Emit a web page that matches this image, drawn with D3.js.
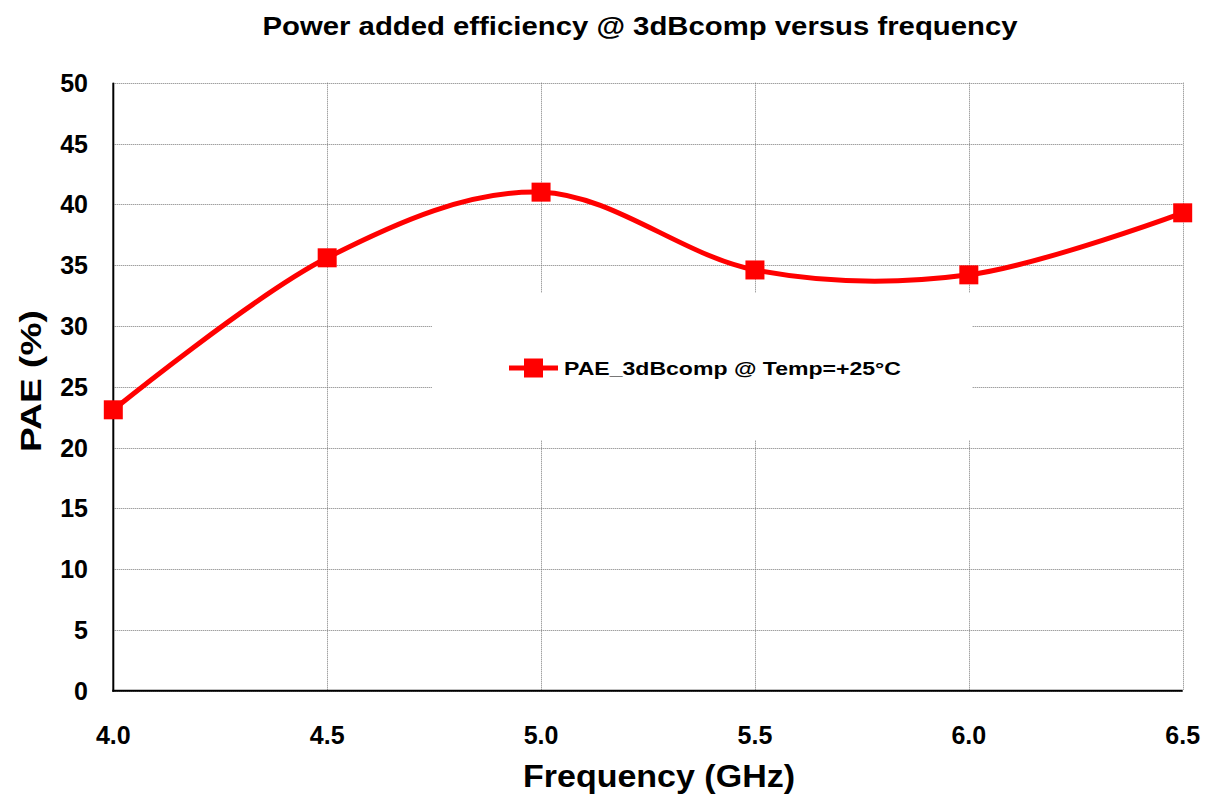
<!DOCTYPE html>
<html><head><meta charset="utf-8">
<script src="https://cdn.jsdelivr.net/npm/d3@7"></script>
<style>body{margin:0;background:#fff}svg{display:block}text{font-family:Arial,"Liberation Sans",sans-serif;font-weight:bold;fill:#000}</style>
</head><body>
<svg id="c" width="1214" height="796"></svg>
<script>
const frequency = [4.0, 4.5, 5.0, 5.5, 6.0, 6.5];
const pae = [23.1, 35.6, 41.0, 34.6, 34.2, 39.3];
const xTicks = [4.0, 4.5, 5.0, 5.5, 6.0, 6.5];
const yTicks = [0, 5, 10, 15, 20, 25, 30, 35, 40, 45, 50];
const seriesName = "PAE_3dBcomp @ Temp=+25°C";
const title = "Power added efficiency @ 3dBcomp versus frequency";

const svg = d3.select("#c");
const x = d3.scaleLinear().domain([4.0, 6.5]).range([113.3, 1182.7]);
const y = d3.scaleLinear().domain([0, 50]).range([690.7, 82.7]);

const grid = svg.append("g").attr("stroke", "#7a7a7a").attr("stroke-width", 1).attr("stroke-dasharray", "1,1");
yTicks.forEach(t => grid.append("line").attr("x1", x(4.0)).attr("x2", x(6.5)).attr("y1", Math.round(y(t)) + 0.5).attr("y2", Math.round(y(t)) + 0.5));
xTicks.forEach(t => grid.append("line").attr("x1", Math.round(x(t)) + 0.5).attr("x2", Math.round(x(t)) + 0.5).attr("y1", y(50)).attr("y2", y(0)));

// legend background (covers gridlines)
const lg = svg.append("g");
lg.append("rect").attr("x", 432).attr("y", 293).attr("width", 540).attr("height", 147).attr("fill", "#fff");

// axes lines
svg.append("line").attr("x1", x(4.0)).attr("x2", x(4.0)).attr("y1", y(50)).attr("y2", y(0) + 1).attr("stroke", "#000").attr("stroke-width", 2);
svg.append("line").attr("x1", x(4.0) - 1).attr("x2", x(6.5)).attr("y1", y(0)).attr("y2", y(0)).attr("stroke", "#000").attr("stroke-width", 2);

// series
const line = d3.line().x((d, i) => x(frequency[i])).y(d => y(d)).curve(d3.curveCatmullRom.alpha(0));
svg.append("path").datum(pae).attr("d", line).attr("fill", "none").attr("stroke", "#ff0000").attr("stroke-width", 5).attr("stroke-linejoin", "round");
svg.append("g").selectAll("rect").data(pae).join("rect")
  .attr("x", (d, i) => x(frequency[i]) - 9.5).attr("y", d => y(d) - 9.5)
  .attr("width", 19).attr("height", 19).attr("fill", "#ff0000");

// legend content
lg.append("line").attr("x1", 509).attr("x2", 558).attr("y1", 368).attr("y2", 368).attr("stroke", "#ff0000").attr("stroke-width", 5);
lg.append("rect").attr("x", 524).attr("y", 358.5).attr("width", 19).attr("height", 19).attr("fill", "#ff0000");
lg.append("text").attr("x", 564).attr("y", 374.5).attr("font-size", 18).attr("textLength", 337).attr("lengthAdjust", "spacingAndGlyphs").text(seriesName);

// tick labels
svg.append("g").selectAll("text").data(yTicks).join("text")
  .attr("x", 88).attr("y", d => y(d) + 9).attr("text-anchor", "end").attr("font-size", 25).text(d => d);
svg.append("g").selectAll("text").data(xTicks).join("text")
  .attr("x", d => x(d)).attr("y", 744).attr("text-anchor", "middle").attr("font-size", 25).text(d => d3.format(".1f")(d));

// titles
svg.append("text").attr("x", 640).attr("y", 35).attr("text-anchor", "middle").attr("font-size", 25)
  .attr("textLength", 755).attr("lengthAdjust", "spacingAndGlyphs").text(title);
svg.append("text").attr("x", 659).attr("y", 787).attr("text-anchor", "middle").attr("font-size", 31)
  .attr("textLength", 272).attr("lengthAdjust", "spacingAndGlyphs").text("Frequency (GHz)");
svg.append("text").attr("transform", "translate(41,381) rotate(-90)").attr("text-anchor", "middle").attr("font-size", 30)
  .attr("textLength", 142).attr("lengthAdjust", "spacingAndGlyphs").text("PAE (%)");
</script>
</body></html>
